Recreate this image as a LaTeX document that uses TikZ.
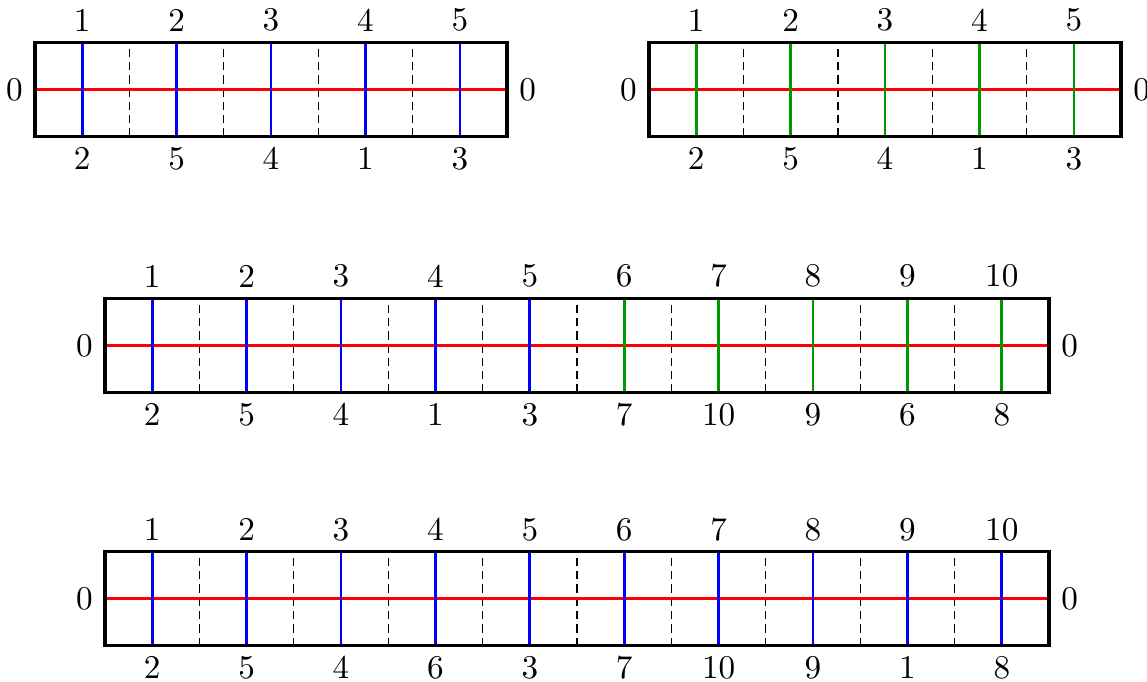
\documentclass[tikz,border=0pt]{standalone}
\usetikzlibrary{calc}
\definecolor{BlueLine}{rgb}{0,0,1}
\definecolor{GreenLine}{rgb}{0,0.6,0}

\tikzset{
  frame/.style={line width=1pt,black},
  cut/.style={line width=0.4pt,black,dash pattern=on 2.5pt off 1.5pt},
  axisline/.style={line width=0.8pt,red},
  strand/.style={line width=0.8pt},
  toplbl/.style={inner sep=3pt,anchor=south},
  botlbl/.style={inner sep=3pt,anchor=north},
}

% #1 name, #2 left x, #3 middle y, #4 cells, #5 list cell/bottom/colour
\newcommand{\drawstrip}[5]{%
  \foreach \k in {2,...,#4}
    \draw[cut] ({#2+\k-1},{#3-0.5}) -- ({#2+\k-1},{#3+0.5});
  \draw[axisline] (#2,#3) -- ({#2+#4},#3);
  \foreach \i/\lo/\clr in {#5} {
    \draw[strand,\clr] ({#2+\i-0.5},{#3-0.5}) -- ({#2+\i-0.5},{#3+0.5});
    \node[toplbl] (#1t\i) at ({#2+\i-0.5},{#3+0.5}) {\i};
    \node[botlbl] (#1b\i) at ({#2+\i-0.5},{#3-0.5}) {\lo};
  }
  \draw[frame] (#2,{#3-0.5}) rectangle ({#2+#4},{#3+0.5});
  \node[inner sep=3.5pt,anchor=east] (#1l) at (#2,#3) {0};
  \node[inner sep=3.5pt,anchor=west] (#1r) at ({#2+#4},#3) {0};
}

\begin{document}
\begin{tikzpicture}
\useasboundingbox (0,0) rectangle (12.15,7.214);

\drawstrip{a}{0.371}{6.266}{5}{1/2/BlueLine,2/5/BlueLine,3/4/BlueLine,4/1/BlueLine,5/3/BlueLine}
\drawstrip{b}{6.875}{6.266}{5}{1/2/GreenLine,2/5/GreenLine,3/4/GreenLine,4/1/GreenLine,5/3/GreenLine}

\drawstrip{c}{1.112}{3.554}{10}{1/2/BlueLine,2/5/BlueLine,3/4/BlueLine,4/1/BlueLine,5/3/BlueLine,
  6/7/GreenLine,7/10/GreenLine,8/9/GreenLine,9/6/GreenLine,10/8/GreenLine}

\drawstrip{d}{1.112}{0.873}{10}{1/2/BlueLine,2/5/BlueLine,3/4/BlueLine,4/6/BlueLine,5/3/BlueLine,
  6/7/BlueLine,7/10/BlueLine,8/9/BlueLine,9/1/BlueLine,10/8/BlueLine}

\end{tikzpicture}
\end{document}
